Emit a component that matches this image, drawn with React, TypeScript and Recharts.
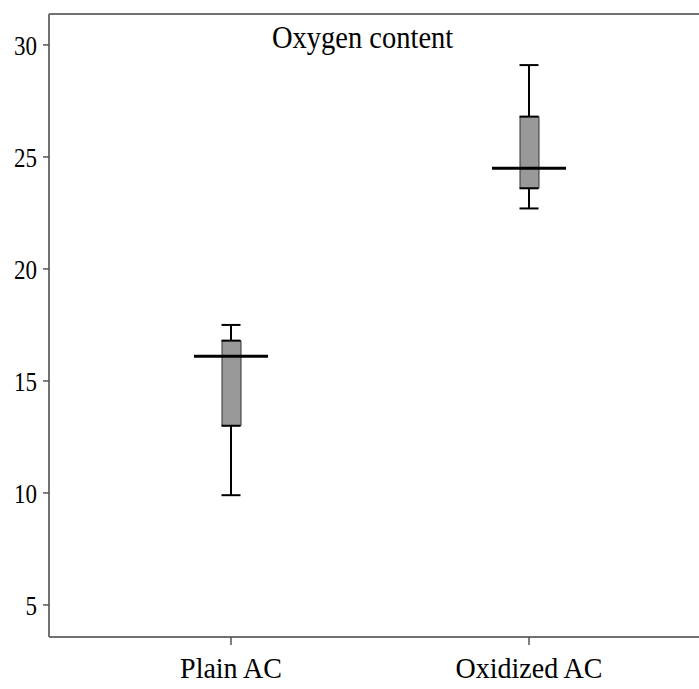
import { ComposedChart, Bar, Scatter, ErrorBar, XAxis, YAxis, ReferenceLine } from 'recharts';

const categories = ['Plain AC', 'Oxidized AC'];
const whiskerLow = [9.9, 22.7];
const q1 = [13.0, 23.6];
const median = [16.1, 24.5];
const q3 = [16.8, 26.8];
const whiskerHigh = [17.5, 29.1];
const yTicks = [5, 10, 15, 20, 25, 30];
const yDomain: [number, number] = [3.57, 31.38];

const FONT = '"Liberation Serif", "Times New Roman", serif';
const AXIS = '#727272';

const data = categories.map((name, i) => ({
  name,
  box: [q1[i], q3[i]],
  q1: q1[i],
  q3: q3[i],
  median: median[i],
  lowErr: [q1[i] - whiskerLow[i], 0],
  highErr: [0, whiskerHigh[i] - q3[i]],
}));

const Empty = () => <g />;

const MedianLine = (props: any) => {
  const { cx, cy } = props;
  return <line x1={cx - 37} x2={cx + 37} y1={cy} y2={cy} stroke="#000" strokeWidth={3} />;
};

// the original figure's text is a bit stretched vertically
const XTick = (props: any) => {
  const { x, y, payload } = props;
  return (
    <text
      transform={`translate(${x},${y}) scale(1,1.06)`}
      textAnchor="middle"
      dy="0.71em"
      fontSize={28}
      fontFamily={FONT}
      fill="#000"
    >
      {payload.value}
    </text>
  );
};

const YTick = (props: any) => {
  const { x, y, payload } = props;
  return (
    <text
      transform={`translate(${x},${y}) scale(1,1.2)`}
      textAnchor="end"
      dy="0.355em"
      fontSize={23}
      fontFamily={FONT}
      fill="#000"
    >
      {payload.value}
    </text>
  );
};

const App = () => {
  return (
    <div style={{ position: 'absolute', left: 0, top: 0, width: 699, height: 689, overflow: 'hidden', background: '#fff' }}>
      <ComposedChart
        width={720}
        height={689}
        data={data}
        margin={{ top: 14, right: 10, bottom: 0, left: 0 }}
      >
        <XAxis
          dataKey="name"
          type="category"
          padding={{ left: 33, right: 32 }}
          height={52}
          stroke={AXIS}
          strokeWidth={2}
          tickSize={8}
          tickMargin={12}
          tick={<XTick />}
          tickLine={{ stroke: '#555', strokeWidth: 1.5 }}
        />
        <YAxis
          type="number"
          domain={yDomain}
          ticks={yTicks}
          allowDataOverflow
          width={49}
          stroke={AXIS}
          strokeWidth={2}
          tickSize={6}
          tickMargin={6}
          tick={<YTick />}
          tickLine={{ stroke: '#555', strokeWidth: 1.5 }}
        />
        <ReferenceLine y={yDomain[1]} stroke={AXIS} strokeWidth={2} />
        <Bar dataKey="box" barSize={19} fill="#999999" stroke="#333" strokeWidth={1} isAnimationActive={false} />
        <Scatter dataKey="q1" shape={Empty} isAnimationActive={false}>
          <ErrorBar dataKey="lowErr" direction="y" width={9.5} stroke="#000" strokeWidth={2} />
        </Scatter>
        <Scatter dataKey="q3" shape={Empty} isAnimationActive={false}>
          <ErrorBar dataKey="highErr" direction="y" width={9.5} stroke="#000" strokeWidth={2} />
        </Scatter>
        <Scatter dataKey="median" shape={MedianLine} isAnimationActive={false} />
      </ComposedChart>
      <div
        style={{
          position: 'absolute',
          left: 272,
          top: 18,
          fontFamily: FONT,
          fontSize: 28.5,
          lineHeight: '36px',
          color: '#000',
          whiteSpace: 'nowrap',
          transform: 'scaleY(1.1)',
          transformOrigin: 'left top',
        }}
      >
        Oxygen content
      </div>
    </div>
  );
};

export default App;
